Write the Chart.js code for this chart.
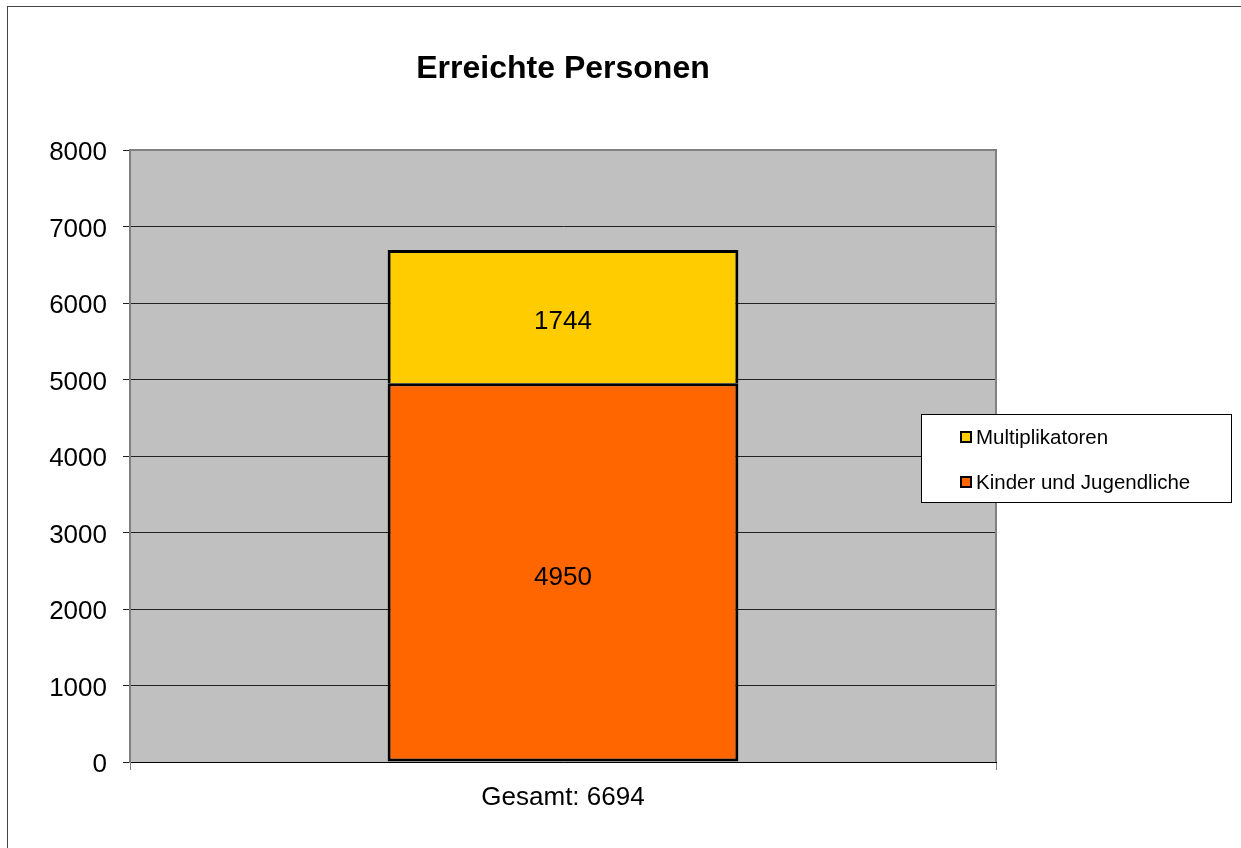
<!DOCTYPE html>
<html>
<head>
<meta charset="utf-8">
<script src="https://cdn.jsdelivr.net/npm/chart.js@4/dist/chart.umd.min.js"></script>
<style>
html,body{margin:0;padding:0;background:#fff;}
canvas{display:block;}
</style>
</head>
<body>
<canvas id="c" width="1241" height="848"></canvas>
<script>
const titleText = 'Erreichte Personen';
const categories = ['Gesamt: 6694'];
const seriesNames = ['Kinder und Jugendliche', 'Multiplikatoren'];
const kinderValues = [4950];
const multiValues = [1744];
const yTickValues = [0, 1000, 2000, 3000, 4000, 5000, 6000, 7000, 8000];

const FONT = "'Liberation Sans', Arial, sans-serif";

const deco = {
  id: 'deco',
  beforeDraw(chart) {
    const {ctx, chartArea: a} = chart;
    ctx.save();
    ctx.fillStyle = '#fff';
    ctx.fillRect(0, 0, chart.width, chart.height);
    ctx.fillStyle = '#C0C0C0';
    ctx.fillRect(a.left, a.top, a.right - a.left, a.bottom - a.top);
    ctx.restore();
  },
  afterDraw(chart) {
    const {ctx, chartArea: a} = chart;
    ctx.save();
    ctx.fillStyle = '#808080';
    ctx.fillRect(a.left, a.top - 1, a.right - a.left, 2);
    ctx.fillRect(a.right - 1, a.top - 1, 2, a.bottom - a.top + 1);
    ctx.fillStyle = '#444';
    ctx.fillRect(7, 6, 1, chart.height - 6);
    ctx.fillRect(7, 6, chart.width - 7, 1);
    ctx.fillStyle = '#000';
    ctx.font = 'bold 32px ' + FONT;
    ctx.textAlign = 'center';
    ctx.textBaseline = 'middle';
    ctx.fillText(titleText, (a.left + a.right) / 2, 69);
    const lx = 921, ly = 414, lw = 310, lh = 88;
    ctx.fillStyle = '#fff';
    ctx.fillRect(lx, ly, lw, lh);
    ctx.strokeStyle = '#000';
    ctx.lineWidth = 1;
    ctx.strokeRect(lx + 0.5, ly + 0.5, lw, lh);
    const ds = chart.data.datasets.slice().reverse();
    ds.forEach((d, i) => {
      const cy = 437 + i * 45;
      ctx.fillStyle = '#000';
      ctx.fillRect(960, cy - 6, 12, 12);
      ctx.fillStyle = d.backgroundColor;
      ctx.fillRect(962, cy - 4, 8, 8);
      ctx.fillStyle = '#000';
      ctx.font = '20.5px ' + FONT;
      ctx.textAlign = 'left';
      ctx.textBaseline = 'middle';
      ctx.fillText(d.label, 976, cy + 1);
    });
    ctx.restore();
  },
  afterDatasetsDraw(chart) {
    const {ctx} = chart;
    ctx.save();
    ctx.fillStyle = '#000';
    ctx.font = '26px ' + FONT;
    ctx.textAlign = 'center';
    ctx.textBaseline = 'middle';
    chart.data.datasets.forEach((d, i) => {
      const meta = chart.getDatasetMeta(i);
      meta.data.forEach((el, j) => {
        const y = (el.y + el.base) / 2 + 5;
        ctx.fillText(String(d.data[j]), el.x, y);
      });
    });
    ctx.restore();
  }
};

new Chart(document.getElementById('c'), {
  type: 'bar',
  data: {
    labels: categories,
    datasets: [
      {label: seriesNames[0], data: kinderValues, backgroundColor: '#FF6600', borderColor: '#000', borderWidth: 3, borderSkipped: false},
      {label: seriesNames[1], data: multiValues, backgroundColor: '#FFCC00', borderColor: '#000', borderWidth: 3, borderSkipped: 'start'}
    ]
  },
  options: {
    responsive: false,
    animation: false,
    devicePixelRatio: 1,
    layout: {padding: {top: 150, right: 245, bottom: 0, left: 0}},
    plugins: {legend: {display: false}, title: {display: false}, tooltip: {enabled: false}},
    datasets: {bar: {barPercentage: 0.405, categoryPercentage: 1}},
    scales: {
      x: {
        stacked: true,
        offset: true,
        afterFit(s) { s.height = 86; },
        grid: {offset: true, drawOnChartArea: false, tickLength: 8, color: '#808080', lineWidth: 1},
        border: {display: true, color: '#000', width: 1},
        ticks: {color: '#000', font: {family: FONT, size: 26}, padding: 12}
      },
      y: {
        stacked: true,
        min: 0, max: 8000,
        afterFit(s) { s.width = 130; },
        afterBuildTicks(s) { s.ticks = yTickValues.map(v => ({value: v})); },
        grid: {color: '#222', lineWidth: 1, tickLength: 7},
        border: {display: true, color: '#808080', width: 2},
        ticks: {color: '#000', font: {family: FONT, size: 26}, padding: 16, labelOffset: 3, callback: v => String(v)}
      }
    }
  },
  plugins: [deco]
});
</script>
</body>
</html>
